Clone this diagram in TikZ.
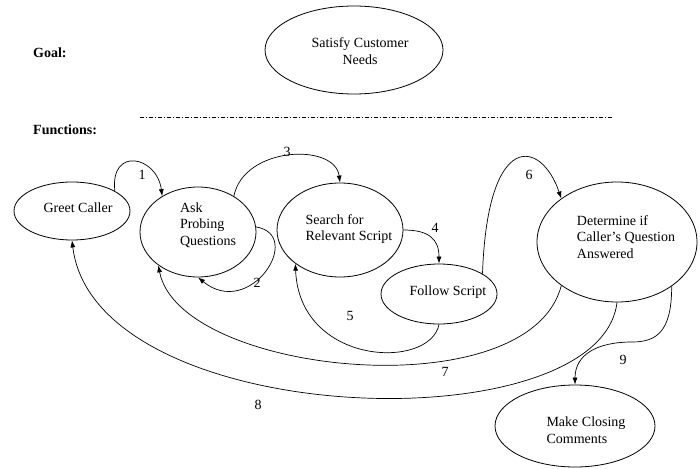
\documentclass[tikz,border=0pt]{standalone}
\usepackage{fontspec}
\setmainfont{Liberation Serif}
\usetikzlibrary{shapes.geometric,arrows.meta}
\begin{document}
\begin{tikzpicture}[x=1pt,y=-1pt,
  elli/.style={draw,ellipse,inner sep=0pt,line width=0.8pt},
  txt/.style={align=left,inner sep=0pt,font=\fontsize{14}{16.5}\selectfont},
  num/.style={inner sep=0pt,font=\fontsize{14}{16}\selectfont},
  conn/.style={line width=0.7pt,-{Latex[length=7pt,width=5pt]}},
  head/.style={inner sep=0pt,anchor=west,font=\fontsize{14}{16}\selectfont\bfseries}]
\useasboundingbox (0,0) rectangle (700,468);
% headings
\node[head] (goal) at (33,53) {Goal:};
\node[head] (func) at (33,130) {Functions:};
\coordinate (dl) at (140,117);
\coordinate (dr) at (612,117);
\draw[line width=0.6pt,dash pattern=on 4pt off 2pt on 1pt off 2pt] (dl) -- (dr);
% ellipses
\node[elli,minimum width=178pt,minimum height=88pt] (goalE) at (354,50) {};
\node[elli,minimum width=116pt,minimum height=58pt] (greet) at (72,211) {};
\node[elli,minimum width=116pt,minimum height=90pt] (ask) at (198,232) {};
\node[elli,minimum width=126pt,minimum height=94pt] (search) at (340,230) {};
\node[elli,minimum width=116pt,minimum height=60pt] (follow) at (439,294) {};
\node[elli,minimum width=160pt,minimum height=120pt] (det) at (617,242) {};
\node[elli,minimum width=160pt,minimum height=82pt] (close) at (575,426) {};
% texts
\node[txt,align=center] (goalT) at (360,51) {Satisfy Customer\\Needs};
\node[txt] (greetT) at (78,208) {Greet Caller};
\node[txt] (askT) at (208,225) {Ask\\Probing\\Questions};
\node[txt] (searchT) at (349,229) {Search for\\Relevant Script};
\node[txt] (followT) at (448,292) {Follow Script};
\node[txt] (detT) at (626,237) {Determine if\\Caller's Question\\Answered};
\node[txt] (closeT) at (586,430) {Make Closing\\Comments};
% connectors
\draw[conn] (greet.25) .. controls +(-5,-45) and +(-5,-40) .. (ask.135);
\draw[conn] (ask.5) .. controls (305,235) and (250,320) .. (ask.-90);
\draw[conn] (ask.45) .. controls +(10,-50) and +(-5,-40) .. (search.north);
\draw[conn] (search.east) .. controls +(25,0) and +(0,-25) .. (follow.north);
\draw[conn] (follow.south) .. controls +(-9,46) and +(4,102) .. (search.-143);
\draw[conn] (follow.25) .. controls +(5,-145) and +(-20,-59) .. (det.142);
\draw[conn] (det.-142) .. controls +(-32,125) and +(21,110) .. (ask.-140);
\draw[conn] (det.south) .. controls +(-17,143) and +(23,190) .. (greet.south);
\coordinate (k9) at (632,342);
\draw[conn] (det.-39) .. controls +(0,45) and +(25,0) .. (k9) .. controls +(-35,0) and +(0,-30) .. (close.north);
% numbers
\node[num] (n1) at (142,175) {1};
\node[num] (n2) at (257,283) {2};
\node[num] (n3) at (287,152) {3};
\node[num] (n4) at (435,228) {4};
\node[num] (n5) at (350,316) {5};
\node[num] (n6) at (529,175) {6};
\node[num] (n7) at (445,372) {7};
\node[num] (n8) at (258,405) {8};
\node[num] (n9) at (623,360) {9};
\end{tikzpicture}
\end{document}
